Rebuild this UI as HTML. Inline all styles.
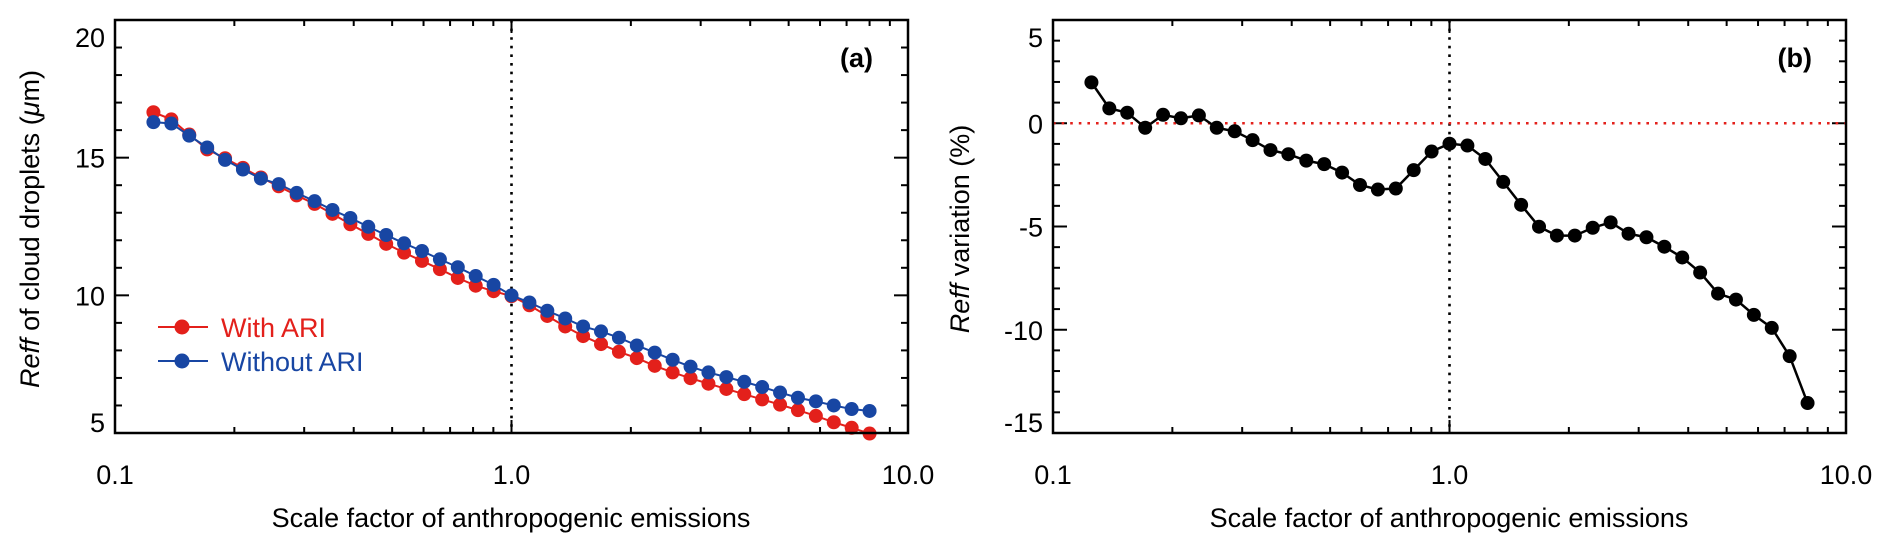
<!DOCTYPE html>
<html><head><meta charset="utf-8"><style>
html,body{margin:0;padding:0;background:#fff;}
svg{display:block;font-family:"Liberation Sans",Arial,sans-serif;}
</style></head><body>
<svg id="fig" width="1892" height="552" viewBox="0 0 1892 552" xmlns="http://www.w3.org/2000/svg"></svg>
<script>
const xValues=[0.125,0.1387,0.1539,0.1708,0.1895,0.2102,0.2333,0.2588,0.2872,0.3187,0.3536,0.3923,0.4353,0.4830,0.5359,0.5946,0.6598,0.7321,0.8123,0.9013,1.0,1.1096,1.2311,1.3660,1.5157,1.6818,1.8661,2.0705,2.2974,2.5491,2.8284,3.1383,3.4822,3.8637,4.2871,4.7568,5.2780,5.8563,6.4980,7.2100,8.0];
const withARI=[16.65,16.39,15.84,15.30,14.98,14.63,14.28,13.96,13.63,13.32,12.96,12.58,12.23,11.87,11.55,11.25,10.95,10.63,10.35,10.15,9.97,9.64,9.25,8.87,8.52,8.23,7.95,7.72,7.44,7.20,6.99,6.79,6.60,6.41,6.22,6.03,5.83,5.62,5.39,5.19,4.98];
const withoutARI=[16.29,16.24,15.80,15.37,14.92,14.57,14.24,14.04,13.72,13.42,13.10,12.81,12.49,12.19,11.89,11.61,11.31,11.02,10.70,10.38,10.0,9.74,9.44,9.16,8.87,8.69,8.46,8.18,7.92,7.66,7.41,7.20,7.03,6.86,6.67,6.47,6.28,6.15,6.00,5.87,5.80];
const variation=[1.98,0.72,0.51,-0.22,0.41,0.24,0.38,-0.22,-0.39,-0.82,-1.30,-1.50,-1.81,-1.98,-2.39,-2.99,-3.21,-3.16,-2.27,-1.37,-0.99,-1.08,-1.73,-2.84,-3.95,-5.01,-5.44,-5.44,-5.06,-4.80,-5.35,-5.52,-5.98,-6.50,-7.23,-8.25,-8.54,-9.28,-9.91,-11.28,-13.55];
const xTickLabels=["0.1","1.0","10.0"];
const xTickVals=[0.1,1,10];
const yTicksA=[5,10,15,20];
const yTicksB=[-15,-10,-5,0,5];

const NS="http://www.w3.org/2000/svg";
const svg=document.getElementById('fig');
function mk(tag,attrs,parent){const e=document.createElementNS(NS,tag);for(const k in attrs)e.setAttribute(k,attrs[k]);(parent||svg).appendChild(e);return e;}
const FS=27;

function panel(opts){
  const {L,R,T,B,ymin,ymax,yTicks,name}=opts;
  const g=mk('g',{});
  
  
  const xs=v=>L+(Math.log10(v)+1)/2*(R-L);
  const ys=v=>B-(v-ymin)/(ymax-ymin)*(B-T);
  for(let d=0.1;d<5;d*=10){for(let m=2;m<=9;m++){const x=xs(d*m);
    const t1=mk('line',{x1:x,x2:x,y1:B,y2:B-6,stroke:'#000','stroke-width':2},g);
    
    const t2=mk('line',{x1:x,x2:x,y1:T,y2:T+6,stroke:'#000','stroke-width':2},g);
    }}
  xTickVals.forEach((v,i)=>{const x=xs(v);
    mk('line',{x1:x,x2:x,y1:B,y2:B-13,stroke:'#000','stroke-width':2},g);
    mk('line',{x1:x,x2:x,y1:T,y2:T+13,stroke:'#000','stroke-width':2},g);
    const t=mk('text',{x:x,y:484,'font-size':FS,'text-anchor':'middle'},g);
    t.textContent=xTickLabels[i];
    
  });
  for(let v=ymin;v<=ymax;v++){const y=ys(v);const major=yTicks.includes(v);const len=major?14:7;
    mk('line',{x1:L,x2:L+len,y1:y,y2:y,stroke:'#000','stroke-width':2},g);
    mk('line',{x1:R,x2:R-len,y1:y,y2:y,stroke:'#000','stroke-width':2},g);}
  yTicks.forEach(v=>{let y=ys(v)+10;
    if(v===ymax) y=ys(v)+27; if(v===ymin) y=ys(v)-1;
    const t=mk('text',{x:L-10,y:y,'font-size':FS,'text-anchor':'end'},g);
    t.textContent=String(v);
    });
  const dl=mk('line',{x1:xs(1),x2:xs(1),y1:T,y2:B,stroke:'#000','stroke-width':2.6,'stroke-dasharray':'2.6 6'},g);
  
  return {g,xs,ys};
}

function series(p,vals,color,name,lw,r){
  const pts=vals.map((v,i)=>p.xs(xValues[i])+','+p.ys(v)).join(' ');
  const pl=mk('polyline',{points:pts,fill:'none',stroke:color,'stroke-width':lw},p.g);
  
  vals.forEach((v,i)=>{const c=mk('circle',{cx:p.xs(xValues[i]),cy:p.ys(v),r:r,fill:color},p.g);
    });
}

const pa=panel({L:115,R:908,T:20,B:433,ymin:5,ymax:20,yTicks:yTicksA,name:'panel-a'});
series(pa,withARI,'#e3201b','with-ari',2,7);
series(pa,withoutARI,'#1846a3','without-ari',2,7);
mk('rect',{x:115,y:20,width:793,height:413,fill:'none',stroke:'#000','stroke-width':2.5},pa.g);
mk('line',{x1:158,x2:208,y1:327,y2:327,stroke:'#e3201b','stroke-width':2},pa.g);
mk('circle',{cx:182,cy:327,r:7.5,fill:'#e3201b'},pa.g);
let t=mk('text',{x:221,y:337,'font-size':FS,fill:'#e3201b'},pa.g);t.textContent='With ARI';

mk('line',{x1:158,x2:208,y1:361,y2:361,stroke:'#1846a3','stroke-width':2},pa.g);
mk('circle',{cx:182,cy:361,r:7.5,fill:'#1846a3'},pa.g);
t=mk('text',{x:221,y:371,'font-size':FS,fill:'#1846a3'},pa.g);t.textContent='Without ARI';

t=mk('text',{x:873,y:67,'font-size':FS,'font-weight':'bold','text-anchor':'end'},pa.g);t.textContent='(a)';

t=mk('text',{x:511,y:527,'font-size':FS,'text-anchor':'middle'},pa.g);t.textContent='Scale factor of anthropogenic emissions';

t=mk('text',{transform:'translate(39,229) rotate(-90)','font-size':FS,'text-anchor':'middle'},pa.g);
t.innerHTML='<tspan font-style="italic">Reff</tspan> of cloud droplets (<tspan font-style="italic">μ</tspan>m)';


const pb=panel({L:1053,R:1846,T:20,B:433,ymin:-15,ymax:5,yTicks:yTicksB,name:'panel-b'});
const zl=mk('line',{x1:1053,x2:1846,y1:pb.ys(0),y2:pb.ys(0),stroke:'#e3201b','stroke-width':2.6,'stroke-dasharray':'2.6 6'},pb.g);

series(pb,variation,'#000','variation',2.5,7);
mk('rect',{x:1053,y:20,width:793,height:413,fill:'none',stroke:'#000','stroke-width':2.5},pb.g);
t=mk('text',{x:1812,y:67,'font-size':FS,'font-weight':'bold','text-anchor':'end'},pb.g);t.textContent='(b)';

t=mk('text',{x:1449,y:527,'font-size':FS,'text-anchor':'middle'},pb.g);t.textContent='Scale factor of anthropogenic emissions';

t=mk('text',{transform:'translate(969,229) rotate(-90)','font-size':FS,'text-anchor':'middle'},pb.g);
t.innerHTML='<tspan font-style="italic">Reff</tspan> variation (%)';

</script>
</body></html>
